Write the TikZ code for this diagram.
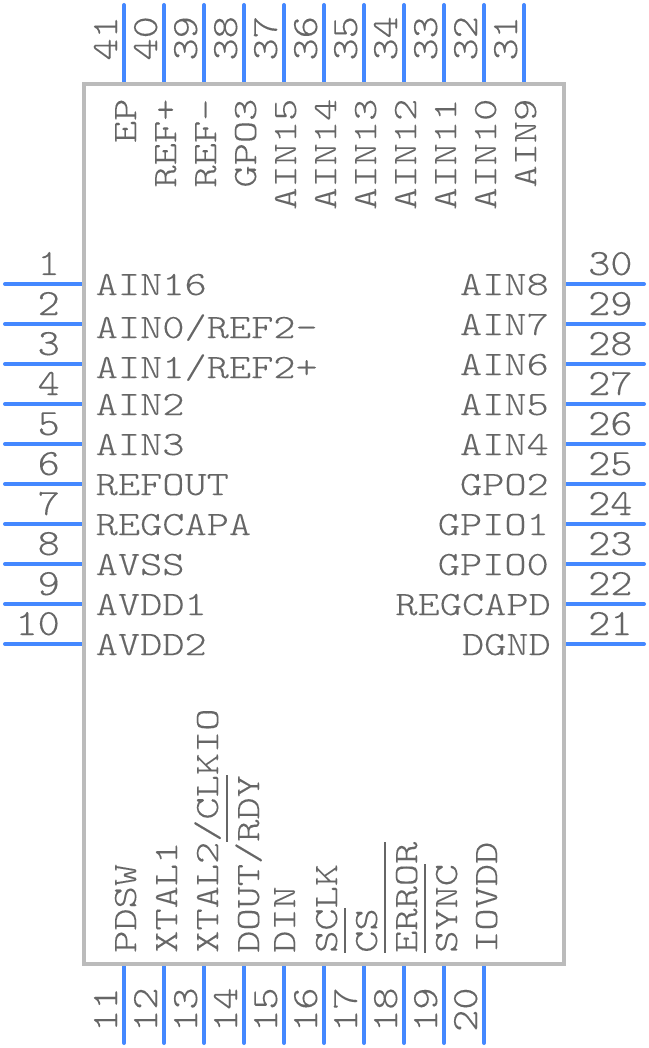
\documentclass[tikz,border=0pt]{standalone}
\usepackage{fontspec}
\setmonofont{Latin Modern Mono Light}[FakeStretch=1.244,FakeBold=0.15]
\newfontfamily\numfont{Latin Modern Mono Light}[FakeStretch=1.14,FakeBold=0.15]
\usetikzlibrary{positioning}
\definecolor{pinblue}{HTML}{4488FF}
\definecolor{bodygray}{HTML}{BBBBBB}
\definecolor{textgray}{HTML}{666666}
\newlength{\barwd}
\newcommand{\ovbar}[1]{\settowidth{\barwd}{#1}\rlap{\rule[31pt]{\barwd}{2pt}}#1}

\begin{document}
\begin{tikzpicture}[
    x=1pt,
    y=-1pt,
    icbody/.style={
        outer sep=0pt,
        minimum width=480pt,
        minimum height=880pt
    },
    bodyline/.style={
        draw=bodygray,
        line width=4pt
    },
    pinline/.style={
        draw=pinblue,
        line width=4pt,
        line cap=round
    },
    pintext/.style={
        inner sep=0pt,
        text=textgray,
        font=\fontsize{34}{36}\selectfont\ttfamily
    },
    pinnum/.style={
        pintext,
        font=\fontsize{37}{39}\selectfont\numfont
    }
]
\useasboundingbox (0,0) rectangle (648,1048);

% Body
\node[icbody] (ic) at (324,524) {};

% Free ends of the pins
\foreach \n/\py in {1/284,2/324,3/364,4/404,5/444,6/484,7/524,8/564,9/604,10/644}
    \coordinate (tip\n) at (5,\py);
\foreach \n/\py in {30/284,29/324,28/364,27/404,26/444,25/484,24/524,23/564,22/604,21/644}
    \coordinate (tip\n) at (644,\py);
\foreach \n/\px in {41/124,40/164,39/204,38/244,37/284,36/324,35/364,34/404,33/444,32/484,31/524}
    \coordinate (tip\n) at (\px,5);
\foreach \n/\px in {11/124,12/164,13/204,14/244,15/284,16/324,17/364,18/404,19/444,20/484}
    \coordinate (tip\n) at (\px,1043);

% Pins
\foreach \n in {1,...,10}
    \draw[pinline] (tip\n) -- (tip\n -| ic.west);
\foreach \n in {21,...,30}
    \draw[pinline] (tip\n) -- (tip\n -| ic.east);
\foreach \n in {31,...,41}
    \draw[pinline] (tip\n) -- (tip\n |- ic.north);
\foreach \n in {11,...,20}
    \draw[pinline] (tip\n) -- (tip\n |- ic.south);

\draw[bodyline] (ic.south west) rectangle (ic.north east);

% Left side
\foreach \n/\py/\dy/\lbl in {
    1/284/11/AIN16, 2/324/14/{AIN0/REF2-}, 3/364/14/{AIN1/REF2+}, 4/404/11/AIN2, 5/444/11/AIN3,
    6/484/11/REFOUT, 7/524/11/REGCAPA, 8/564/11/AVSS, 9/604/11/AVDD1, 10/644/11/AVDD2} {
    \node[pinnum, anchor=base east] (num\n) at (60,\py-9) {\n};
    \node[pintext, anchor=base west] (lbl\n) at (95.5,\py+\dy) {\lbl};
}

% Right side
\foreach \n/\py/\ex/\lbl in {
    30/284/549/AIN8, 29/324/549/AIN7, 28/364/549/AIN6, 27/404/549/AIN5, 26/444/549/AIN4,
    25/484/549/GPO2, 24/524/549/GPIO1, 23/564/549/GPIO0, 22/604/551/REGCAPD, 21/644/551/DGND} {
    \node[pinnum, anchor=base west] (num\n) at (588,\py-9) {\n};
    \node[pintext, anchor=base east] (lbl\n) at (\ex,\py+11) {\lbl};
}

% Top side
\foreach \n/\px/\lbl in {
    41/124/EP, 40/164/REF+, 39/204/REF-, 38/244/GPO3, 37/284/AIN15, 36/324/AIN14,
    35/364/AIN13, 34/404/AIN12, 33/444/AIN11, 32/484/AIN10, 31/524/AIN9} {
    \node[pinnum, rotate=90, anchor=base east] (num\n) at (\px-7,16) {\n};
    \node[pintext, rotate=90, anchor=base east] (lbl\n) at (\px+12,98.5) {\lbl};
}

% Bottom side
\foreach \n/\px/\dx/\lbl in {
    11/124/12/PDSW, 12/164/13/XTAL1, 13/204/14/{XTAL2/CLKIO}, 14/244/15/{DOUT/\ovbar{RDY}},
    15/284/11/DIN, 16/324/13/SCLK, 17/364/13/\ovbar{CS}, 18/404/13/\ovbar{ERROR},
    19/444/13/\ovbar{SYNC}, 20/484/13/IOVDD} {
    \node[pinnum, rotate=90, anchor=base west] (num\n) at (\px-7,1032) {\n};
    \node[pintext, rotate=90, anchor=base west] (lbl\n) at (\px+\dx,953) {\lbl};
}

\end{tikzpicture}
\end{document}
